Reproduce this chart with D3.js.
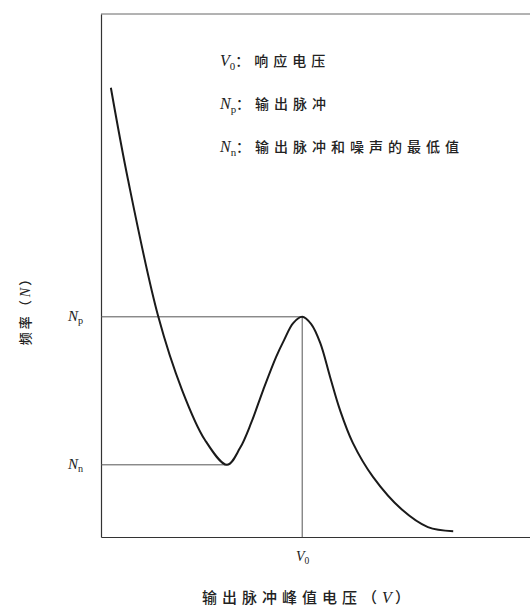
<!DOCTYPE html>
<html><head><meta charset="utf-8">
<script src="https://cdn.jsdelivr.net/npm/d3@7"></script>
<style>body{margin:0;background:#fff}</style>
</head><body><svg id="c" width="530" height="608"></svg>
<script>
// Curve (arbitrary units 0–100 on both axes)
const voltage   = [2.3, 6.3, 13.3, 18.9, 24.2, 29.4, 32.4, 35.0, 37.8, 40.8, 42.7, 44.8, 46.9, 49.0, 51.1, 53.4, 55.7, 58.7, 63.4, 70.2, 76.2, 82.1];
const frequency = [85.9, 68.3, 42.3, 28.1, 18.6, 13.8, 17.0, 21.8, 28.1, 34.4, 37.7, 40.9, 42.1, 40.7, 37.1, 30.6, 24.3, 18.0, 11.5, 5.2, 1.9, 1.1];
const V0 = 46.9, NP = 42.1, NN = 13.8, VMIN = 29.4;
const yTickValues = [NN, NP];
const yTickLabels = [["N","n"], ["N","p"]];
const xTickValues = [V0];
const xTickLabels = [["V","0"]];
const legendSymbols = [["V","0"], ["N","p"], ["N","n"]];
const legendTexts = ["响应电压", "输出脉冲", "输出脉冲和噪声的最低值"];
const xTitle = ["输出脉冲峰值电压（", "V", "）"];
const yTitle = ["频率（", "N", "）"];

const svg = d3.select("#c");
const x = d3.scaleLinear([0, 100], [101, 530]);
const y = d3.scaleLinear([0, 100], [537, 14]);
const serif = "'Liberation Serif','DejaVu Serif',serif";
const cjk = "'Noto Sans CJK SC','Noto Sans',sans-serif";
const ink = "#222";

function symbol(sel, pair, size) {
  sel.append("tspan").attr("font-family", serif).attr("font-style", "italic").attr("font-size", size).text(pair[0]);
  sel.append("tspan").attr("font-family", serif).attr("font-size", size * 0.68).attr("dy", size * 0.22).text(pair[1]);
}

// top frame line
svg.append("line").attr("x1", x(0)).attr("x2", x(100)).attr("y1", y(100)).attr("y2", y(100))
  .attr("stroke", "#666").attr("stroke-width", 1);

// axes
const gy = svg.append("g").attr("transform", `translate(${x(0)},0)`)
  .call(d3.axisLeft(y).tickValues(yTickValues).tickSize(0).tickSizeOuter(0).tickPadding(18));
const gx = svg.append("g").attr("transform", `translate(0,${y(0)})`)
  .call(d3.axisBottom(x).tickValues(xTickValues).tickSize(0).tickSizeOuter(0).tickPadding(17));
[gy, gx].forEach(g => g.select(".domain").attr("stroke", "#333").attr("stroke-width", 1.2));
gy.selectAll(".tick text").each(function(d, i) {
  const t = d3.select(this).text("").attr("fill", ink);
  symbol(t, yTickLabels[i], 15);
});
gx.selectAll(".tick text").each(function(d, i) {
  const t = d3.select(this).text("").attr("fill", ink);
  symbol(t, xTickLabels[i], 14);
});

// guide lines
svg.append("line").attr("x1", x(0)).attr("x2", x(V0)).attr("y1", y(NP)).attr("y2", y(NP))
  .attr("stroke", "#555").attr("stroke-width", 1);
svg.append("line").attr("x1", x(0)).attr("x2", x(VMIN)).attr("y1", y(NN)).attr("y2", y(NN))
  .attr("stroke", "#555").attr("stroke-width", 1);
svg.append("line").attr("x1", x(V0)).attr("x2", x(V0)).attr("y1", y(NP)).attr("y2", y(0))
  .attr("stroke", "#555").attr("stroke-width", 1);

// curve
const pts = voltage.map((v, i) => [v, frequency[i]]);
svg.append("path").datum(pts)
  .attr("d", d3.line().x(d => x(d[0])).y(d => y(d[1])).curve(d3.curveCatmullRom.alpha(0.5)))
  .attr("fill", "none").attr("stroke", "#1a1a1a").attr("stroke-width", 2);

// legend
const legendY = [66, 109, 152];
legendSymbols.forEach((s, i) => {
  const t = svg.append("text").attr("x", 220).attr("y", legendY[i]).attr("fill", ink);
  symbol(t, s, 16);
  t.append("tspan").attr("font-family", cjk).attr("font-size", 14).attr("font-weight", 500).attr("dy", -16 * 0.22)
    .attr("letter-spacing", 5).text("：" + legendTexts[i]);
});

// x title
const xt = svg.append("text").attr("x", 306).attr("y", 603).attr("text-anchor", "middle").attr("fill", ink);
xt.append("tspan").attr("font-family", cjk).attr("font-size", 15).attr("font-weight", 500).attr("letter-spacing", 5).text(xTitle[0]);
xt.append("tspan").attr("font-family", serif).attr("font-style", "italic").attr("font-size", 16).attr("letter-spacing", 3).text(xTitle[1]);
xt.append("tspan").attr("font-family", cjk).attr("font-size", 15).attr("font-weight", 500).text(xTitle[2]);

// y title
const yt = svg.append("text").attr("transform", "translate(30,309) rotate(-90)").attr("text-anchor", "middle").attr("fill", ink);
yt.append("tspan").attr("font-family", cjk).attr("font-size", 13).attr("font-weight", 500).attr("letter-spacing", 3).text(yTitle[0]);
yt.append("tspan").attr("font-family", serif).attr("font-style", "italic").attr("font-size", 14).attr("letter-spacing", 2).text(yTitle[1]);
yt.append("tspan").attr("font-family", cjk).attr("font-size", 13).attr("font-weight", 500).text(yTitle[2]);
</script></body></html>
